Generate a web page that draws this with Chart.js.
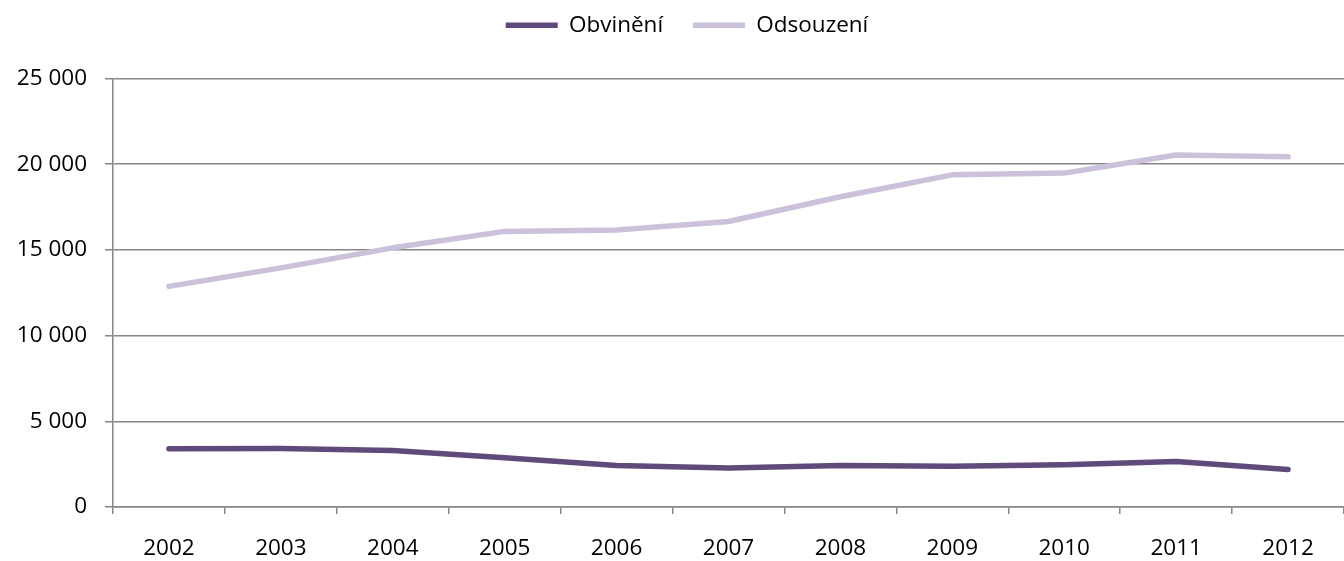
<!DOCTYPE html>
<html lang="cs">
<head>
<meta charset="utf-8">
<title>Obvinění a odsouzení 2002–2012</title>
<script src="https://cdn.jsdelivr.net/npm/chart.js@4.4.1/dist/chart.umd.min.js"></script>
<style>
  html, body { margin: 0; padding: 0; background: #ffffff; }
  #wrap { width: 1344px; height: 561px; }
</style>
</head>
<body>
<div id="wrap"><canvas id="chart" width="1344" height="561"></canvas></div>
<script>
// Roky
const years = ['2002', '2003', '2004', '2005', '2006', '2007', '2008', '2009', '2010', '2011', '2012'];
// Počty osob
const obvineni = [3400, 3420, 3300, 2870, 2420, 2270, 2420, 2380, 2460, 2650, 2190];
const odsouzeni = [12870, 13950, 15120, 16080, 16160, 16660, 18100, 19380, 19480, 20540, 20430];
// Osa Y
const yMin = 0;
const yMax = 25000;
const yStep = 5000;

const FONT = '"Open Sans", "Liberation Sans", sans-serif';
const FONT_SIZE = 22.5;
const GRID = '#868686';

// Extra space below the legend, and centring of the legend row without the trailing gap
const legendSpacing = {
  id: 'legendSpacing',
  beforeLayout(chart) {
    const lg = chart.legend;
    if (!lg || lg._spacingPatched) return;
    const fit = lg.fit;
    lg.fit = function () {
      fit.call(this);
      const pad = this.options.labels.padding;
      this.lineWidths = this.lineWidths.map(w => w - pad);
      this.height += 32;
    };
    lg._spacingPatched = true;
  }
};

new Chart(document.getElementById('chart'), {
  type: 'line',
  data: {
    labels: years,
    datasets: [
      {
        label: 'Obvinění',
        data: obvineni,
        borderColor: '#604a7b',
        backgroundColor: '#604a7b',
        borderWidth: 5.5,
        borderCapStyle: 'round',
        borderJoinStyle: 'round',
        pointRadius: 0,
        pointHoverRadius: 0,
        tension: 0,
        fill: false
      },
      {
        label: 'Odsouzení',
        data: odsouzeni,
        borderColor: '#ccc1da',
        backgroundColor: '#ccc1da',
        borderWidth: 5.5,
        borderCapStyle: 'round',
        borderJoinStyle: 'round',
        pointRadius: 0,
        pointHoverRadius: 0,
        tension: 0,
        fill: false
      }
    ]
  },
  options: {
    responsive: false,
    animation: false,
    events: [],
    layout: { padding: { top: -16, right: 0, bottom: 0, left: 0 } },
    plugins: {
      legend: {
        display: true,
        position: 'top',
        align: 'center',
        labels: {
          usePointStyle: true,
          pointStyle: 'line',
          pointStyleWidth: 52,
          boxHeight: 5,
          padding: 30,
          color: '#000000',
          font: { family: FONT, size: FONT_SIZE }
        }
      },
      tooltip: { enabled: false }
    },
    scales: {
      x: {
        type: 'category',
        offset: true,
        grid: {
          display: true,
          offset: true,
          drawOnChartArea: false,
          drawTicks: true,
          tickLength: 7,
          color: GRID,
          lineWidth: 1.5
        },
        border: { display: true, color: GRID, width: 1.5 },
        ticks: {
          color: '#000000',
          font: { family: FONT, size: FONT_SIZE },
          padding: 21,
          maxRotation: 0,
          autoSkip: false
        },
        afterFit(scale) { scale.height = 54; }
      },
      y: {
        min: yMin,
        max: yMax,
        grid: {
          display: true,
          drawOnChartArea: true,
          drawTicks: true,
          tickLength: 8,
          color: GRID,
          lineWidth: 1.5
        },
        border: { display: true, color: GRID, width: 1.5 },
        ticks: {
          stepSize: yStep,
          color: '#000000',
          font: { family: FONT, size: FONT_SIZE },
          padding: 18,
          callback: v => String(v).replace(/\B(?=(\d{3})+(?!\d))/g, '\u00a0')
        },
        afterFit(scale) { scale.width = 113; }
      }
    }
  },
  plugins: [legendSpacing]
});
</script>
</body>
</html>
